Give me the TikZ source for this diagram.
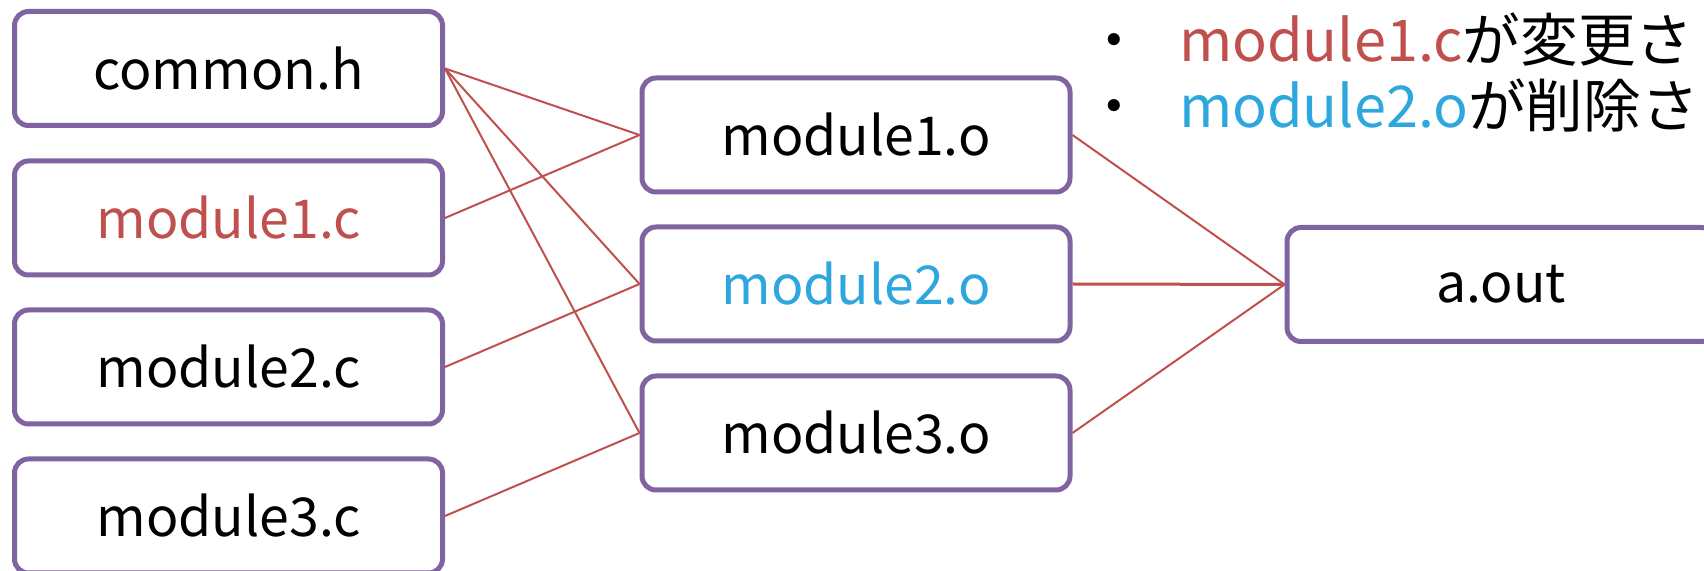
\documentclass[tikz,border=0pt]{standalone}
\usepackage{fontspec}
\setmainfont{Noto Sans CJK JP}
\definecolor{boxpurple}{HTML}{8064A2}
\definecolor{linered}{HTML}{C0504D}
\definecolor{textblue}{HTML}{2EA7DF}
\begin{document}
\begin{tikzpicture}[x=0.5pt,y=-0.5pt,
  filebox/.style={draw=boxpurple, line width=2.5pt, rounded corners=7pt, fill=white,
    minimum width=214pt, minimum height=57pt, inner sep=0pt, font=\fontsize{26.8pt}{32pt}\selectfont},
  dep/.style={draw=linered, line width=1pt},
  note/.style={anchor=base west, inner sep=0pt, font=\fontsize{28.8pt}{34pt}\selectfont}]
\path[use as bounding box, clip] (0,0) rectangle (1704,571);
\node[filebox] (ch) at (228.5,68.5) {common.h};
\node[filebox, text=linered] (m1c) at (228.5,218) {module1.c};
\node[filebox] (m2c) at (228.5,367) {module2.c};
\node[filebox] (m3c) at (228.5,516) {module3.c};
\node[filebox] (m1o) at (856,135) {module1.o};
\node[filebox, text=textblue] (m2o) at (856,284) {module2.o};
\node[filebox] (m3o) at (856,433) {module3.o};
\node[filebox] (aout) at (1501,284.5) {a.out};
\draw[dep] (ch.east) -- (m1o.west);
\draw[dep] (ch.east) -- (m2o.west);
\draw[dep] (ch.east) -- (m3o.west);
\draw[dep] (m1c.east) -- (m1o.west);
\draw[dep] (m2c.east) -- (m2o.west);
\draw[dep] (m3c.east) -- (m3o.west);
\draw[dep] (m1o.east) -- (aout.west);
\draw[dep, line width=1.5pt] (m2o.east) -- (aout.west);
\draw[dep] (m3o.east) -- (aout.west);
\node[note] (n1) at (1085,62) {・\kern18pt\textcolor{linered}{module1.c}が変更さ};
\node[note] (n2) at (1085,128) {・\kern18pt\textcolor{textblue}{module2.o}が削除さ};
\end{tikzpicture}
\end{document}
